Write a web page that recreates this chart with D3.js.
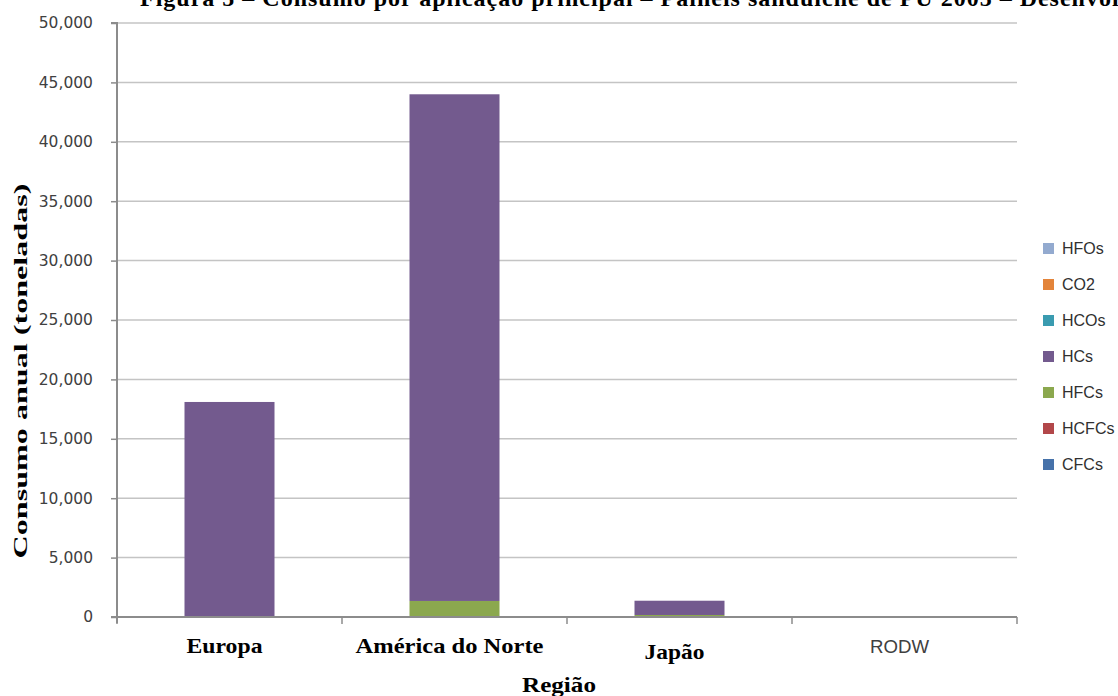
<!DOCTYPE html>
<html>
<head>
<meta charset="utf-8">
<script src="https://cdn.jsdelivr.net/npm/d3@7"></script>
<style>
  body { margin: 0; background: #fff; }
  svg { display: block; }
</style>
</head>
<body>
<div id="app"></div>
<script>
// data
const regions = ['Europa', 'América do Norte', 'Japão', 'RODW']
const seriesNames = ['CFCs', 'HCFCs', 'HFCs', 'HCs', 'HCOs', 'CO2', 'HFOs']
const CFCs  = [0, 0, 0, 0]
const HCFCs = [0, 0, 0, 0]
const HFCs  = [0, 1350, 170, 0]
const HCs   = [18100, 42650, 1200, 0]
const HCOs  = [0, 0, 0, 0]
const CO2   = [0, 0, 0, 0]
const HFOs  = [0, 0, 0, 0]
const yTicks = [0, 5000, 10000, 15000, 20000, 25000, 30000, 35000, 40000, 45000, 50000]
const title = 'Figura 5 – Consumo por aplicação principal – Painéis sanduíche de PU 2005 – Desenvolvidos'
const colors = ['#4672aa', '#b2474a', '#8ba84e', '#735a8e', '#3a9bb0', '#e3843a', '#93aacf']

const W = 1118, H = 696
const svg = d3.select('#app').append('svg').attr('width', W).attr('height', H)

const rows = regions.map((r, i) => ({
  region: r, CFCs: CFCs[i], HCFCs: HCFCs[i], HFCs: HFCs[i], HCs: HCs[i],
  HCOs: HCOs[i], CO2: CO2[i], HFOs: HFOs[i]
}))
const stacked = d3.stack().keys(seriesNames)(rows)

const x = d3.scaleBand().domain(regions).range([117, 1017]).paddingInner(0.6).paddingOuter(0.3)
const y = d3.scaleLinear().domain([0, 50000]).range([617, 23])
const color = d3.scaleOrdinal().domain(seriesNames).range(colors)

// title (cut off at the top of the picture, as in the source)
svg.append('text').attr('x', 140).attr('y', 6)
  .attr('font-family', 'Liberation Serif').attr('font-weight', 'bold').attr('font-size', 24)
  .attr('letter-spacing', 1)
  .text(title)

// gridlines
svg.append('g').selectAll('line').data(yTicks.filter(d => d > 0)).enter().append('line')
  .attr('x1', 117).attr('x2', 1017)
  .attr('y1', d => y(d)).attr('y2', d => y(d))
  .attr('stroke', '#c4c4c4').attr('stroke-width', 1.5)

// bars
svg.append('g').selectAll('g').data(stacked).enter().append('g')
  .attr('fill', d => color(d.key))
  .selectAll('rect').data(d => d).enter().append('rect')
  .attr('x', d => x(d.data.region))
  .attr('width', x.bandwidth())
  .attr('y', d => y(d[1]))
  .attr('height', d => y(d[0]) - y(d[1]))

// y axis
const yAxis = svg.append('g').attr('transform', 'translate(117,0)')
  .call(d3.axisLeft(y).tickValues(yTicks).tickSize(6).tickPadding(18).tickFormat(d3.format(',')))
yAxis.select('.domain').attr('stroke', '#8c8c8c').attr('stroke-width', 2).attr('d', 'M-6,23H0V623')
yAxis.selectAll('.tick line').attr('stroke', '#8c8c8c').attr('stroke-width', 1.5)
yAxis.selectAll('.tick text').attr('font-family', 'DejaVu Sans').attr('font-size', 15.5).attr('fill', '#404040')

// x axis line and boundary ticks
svg.append('line').attr('x1', 111).attr('x2', 1017).attr('y1', 617).attr('y2', 617)
  .attr('stroke', '#8c8c8c').attr('stroke-width', 2)
svg.append('g').selectAll('line').data(regions.concat(['end'])).enter().append('line')
  .attr('x1', (d, i) => 117 + i * x.step()).attr('x2', (d, i) => 117 + i * x.step())
  .attr('y1', 617).attr('y2', 624)
  .attr('stroke', '#8c8c8c').attr('stroke-width', 1.5)

// x labels
const xLab = [
  { w: 76, dy: 653, serif: true },
  { w: 188, dy: 653, serif: true },
  { w: 60, dy: 659, serif: true },
  { w: 59, dy: 653, serif: false }
]
svg.append('g').selectAll('text').data(regions).enter().append('text')
  .attr('x', d => x(d) + x.bandwidth() / 2 - 5)
  .attr('y', (d, i) => xLab[i].dy)
  .attr('text-anchor', 'middle')
  .attr('font-family', (d, i) => xLab[i].serif ? 'Liberation Serif' : 'Liberation Sans')
  .attr('font-weight', (d, i) => xLab[i].serif ? 'bold' : 'normal')
  .attr('font-size', (d, i) => xLab[i].serif ? 21 : 18)
  .attr('fill', (d, i) => xLab[i].serif ? '#000' : '#404040')
  .attr('textLength', (d, i) => xLab[i].w)
  .attr('lengthAdjust', 'spacingAndGlyphs')
  .text(d => d)

// axis titles
svg.append('text').attr('x', 559).attr('y', 692).attr('text-anchor', 'middle')
  .attr('font-family', 'Liberation Serif').attr('font-weight', 'bold').attr('font-size', 21)
  .attr('textLength', 74).attr('lengthAdjust', 'spacingAndGlyphs')
  .text('Região')
svg.append('text').attr('transform', 'translate(27,371) rotate(-90)').attr('text-anchor', 'middle')
  .attr('font-family', 'Liberation Serif').attr('font-weight', 'bold').attr('font-size', 19)
  .attr('textLength', 375).attr('lengthAdjust', 'spacingAndGlyphs')
  .text('Consumo anual (toneladas)')

// legend, top entry is the last series
const legend = svg.append('g').selectAll('g').data(seriesNames.slice().reverse()).enter().append('g')
  .attr('transform', (d, i) => `translate(1043,${243 + i * 36})`)
legend.append('rect').attr('width', 11).attr('height', 11).attr('fill', d => color(d))
legend.append('text').attr('x', 19).attr('y', 11)
  .attr('font-family', 'Liberation Sans').attr('font-size', 16).attr('fill', '#303030')
  .text(d => d)
</script>
</body>
</html>
